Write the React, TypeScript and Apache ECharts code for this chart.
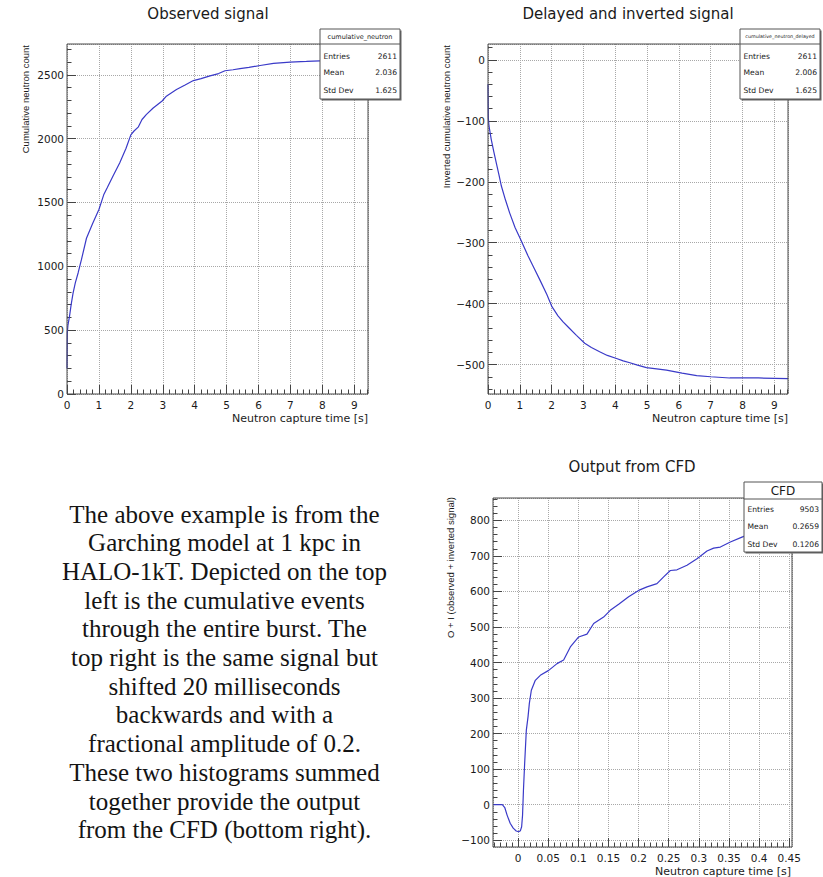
import { useEffect, useRef } from "react";
import * as echarts from "echarts";

// ---------- data ----------
const observedTime = [0, 0.01, 0.03, 0.08, 0.13, 0.19, 0.26, 0.35, 0.45, 0.61, 0.8, 1.0, 1.15, 1.26, 1.45, 1.65, 1.85, 2.0, 2.1, 2.23, 2.35, 2.49, 2.7, 2.98, 3.1, 3.43, 3.7, 3.96, 4.2, 4.48, 4.75, 4.95, 5.2, 5.42, 5.7, 6.05, 6.47, 6.99, 7.5, 7.93, 8.5, 9.0, 9.43];
const observedCount = [200, 480, 540, 610, 700, 790, 870, 950, 1050, 1220, 1333, 1445, 1560, 1615, 1712, 1810, 1925, 2030, 2060, 2090, 2150, 2190, 2240, 2295, 2330, 2385, 2420, 2455, 2470, 2492, 2510, 2532, 2540, 2548, 2558, 2573, 2590, 2600, 2605, 2610, 2611, 2611, 2611];

const delayedTime = [0, 0.01, 0.03, 0.1, 0.18, 0.26, 0.35, 0.42, 0.55, 0.68, 0.85, 1.03, 1.26, 1.45, 1.63, 1.85, 2.01, 2.2, 2.36, 2.55, 2.78, 3.04, 3.25, 3.51, 3.75, 4.04, 4.25, 4.46, 4.7, 4.98, 5.3, 5.61, 6.1, 6.56, 7.0, 7.6, 8.5, 9.43];
const delayedCount = [-40, -95, -108, -130, -150, -169, -190, -207, -230, -251, -275, -295, -322, -342, -361, -385, -405, -420, -430, -440, -452, -465, -472, -479, -485, -490, -494, -497, -501, -505, -507, -509, -514, -518, -520, -522, -522, -523];

const cfdTime = [-0.0415, -0.026, -0.022, -0.018, -0.013, -0.008, -0.003, 0.001, 0.004, 0.006, 0.0075, 0.009, 0.011, 0.0138, 0.0166, 0.0188, 0.0221, 0.0287, 0.037, 0.0509, 0.0647, 0.0757, 0.0868, 0.1006, 0.1144, 0.1255, 0.142, 0.153, 0.167, 0.1835, 0.2, 0.214, 0.2305, 0.2416, 0.2527, 0.2637, 0.2803, 0.2969, 0.3135, 0.3245, 0.3356, 0.3522, 0.3715, 0.39, 0.41, 0.43, 0.4545];
const cfdValue = [0, 0, -8, -30, -52, -66, -74, -76, -73, -62, -30, 40, 116, 210, 247, 285, 322, 350, 364, 378, 397, 407, 444, 472, 480, 510, 528, 547, 564, 585, 603, 613, 622, 641, 659, 661, 674, 692, 714, 722, 725, 739, 753, 765, 780, 800, 818];

const statLabels = ["Entries", "Mean", "Std Dev"];
const observedStats = ["2611", "2.036", "1.625"];
const delayedStats = ["2611", "2.006", "1.625"];
const cfdStats = ["9503", "0.2659", "0.1206"];

const chartTitles = ["Observed signal", "Delayed and inverted signal", "Output from CFD"];
const xTitle = "Neutron capture time [s]";
const yTitles = ["Cumulative neutron count", "Inverted cumulative neutron count", "O + I (observed + inverted signal)"];
const statsNames = ["cumulative_neutron", "cumulative_neutron_delayed", "CFD"];

const paragraphLines = [
  "The above example is from the",
  "Garching model at 1 kpc in",
  "HALO-1kT. Depicted on the top",
  "left is the cumulative events",
  "through the entire burst. The",
  "top right is the same signal but",
  "shifted 20 milliseconds",
  "backwards and with a",
  "fractional amplitude of 0.2.",
  "These two histograms summed",
  "together provide the output",
  "from the CFD (bottom right).",
];

// ---------- styling ----------
const SANS = "DejaVu Sans";
const NARROW = "Liberation Sans";
const SERIF = "Liberation Serif";
const LINE = "#3a3ac8";
const TICK = "#444";
const LABEL = "#1a1a1a";
const GRIDC = "#a8a8a8";

function steps(a: number, b: number, s: number): number[] {
  const out: number[] = [];
  const n = Math.round((b - a) / s);
  for (let i = 0; i <= n; i++) out.push(+(a + i * s).toFixed(6));
  return out;
}

const fmt = (v: number) => String(+(+v).toFixed(4)).replace("-", "\u2212");

const zip = (xs: number[], ys: number[]) => xs.map((x, i) => [x, ys[i]]);

const grids = [
  { left: 67, top: 44, width: 301, height: 350 },
  { left: 488, top: 44, width: 300, height: 350 },
  { left: 493, top: 498, width: 299, height: 349 },
];

const xRanges = [
  { min: 0, max: 9.43, step: 1, minor: steps(0, 9.4, 0.2), showMin: true },
  { min: 0, max: 9.43, step: 1, minor: steps(0, 9.4, 0.2), showMin: true },
  { min: -0.0415, max: 0.4545, step: 0.05, minor: steps(-0.04, 0.45, 0.01), showMin: false },
];
const yRanges = [
  { min: 0, max: 2741.5, step: 500, minor: steps(0, 2700, 100), showMin: true },
  { min: -548.3, max: 26.1, step: 100, minor: steps(-540, 20, 20), showMin: false },
  { min: -119, max: 863, step: 100, minor: steps(-100, 860, 20), showMin: false },
];

function mainAxis(i: number, r: any, pos: string, margin: number) {
  return {
    gridIndex: i,
    type: "value",
    min: r.min,
    max: r.max,
    minInterval: r.step,
    maxInterval: r.step,
    position: pos,
    axisLine: { show: false, onZero: false },
    axisTick: { show: true, inside: true, length: 9, lineStyle: { color: TICK, width: 1 } },
    axisLabel: {
      show: true,
      margin,
      fontFamily: SANS,
      fontSize: 10.5,
      color: LABEL,
      showMinLabel: r.showMin,
      showMaxLabel: false,
      formatter: fmt,
    },
    splitLine: { show: true, lineStyle: { color: GRIDC, type: "dotted", width: 1 } },
  };
}

function minorAxis(i: number, r: any, pos: string) {
  return {
    gridIndex: i,
    type: "value",
    min: r.min,
    max: r.max,
    position: pos,
    axisLine: { show: false, onZero: false },
    axisLabel: { show: false },
    splitLine: { show: false },
    axisTick: {
      show: true,
      inside: true,
      length: 4.5,
      customValues: r.minor,
      lineStyle: { color: TICK, width: 1 },
    },
  };
}

function txt(x: number, y: number, text: string, size: number, family: string, align: string, extra: any = {}) {
  return {
    type: "text",
    x,
    y,
    z: 100,
    silent: true,
    ...extra,
    style: {
      text,
      fontSize: size,
      fontFamily: family,
      fill: extra.fill || LABEL,
      textAlign: align,
      align,
      textVerticalAlign: "middle",
      verticalAlign: "middle",
    },
  };
}

function statsBox(x: number, y: number, w: number, h: number, divY: number, name: string, nameSize: number, values: string[], rowYs: number[]) {
  const els: any[] = [];
  els.push({ type: "rect", z: 98, silent: true, shape: { x: x + 1.5, y: y + 1.5, width: w, height: h }, style: { fill: "#666" } });
  els.push({ type: "rect", z: 99, silent: true, shape: { x, y, width: w, height: h }, style: { fill: "#fff", stroke: "#555", lineWidth: 1 } });
  els.push({ type: "line", z: 100, silent: true, shape: { x1: x, y1: divY, x2: x + w, y2: divY }, style: { stroke: "#555", lineWidth: 1 } });
  els.push(txt(x + w / 2, (y + divY) / 2, name, nameSize, SANS, "center"));
  statLabels.forEach((lab, k) => {
    els.push(txt(x + 3.5, rowYs[k], lab, 7.6, SANS, "left"));
    els.push(txt(x + w - 3, rowYs[k], values[k], 7.6, SANS, "right"));
  });
  return els;
}

export default function App() {
  const ref = useRef<HTMLDivElement>(null);
  useEffect(() => {
    if (!ref.current) return;
    const chart = echarts.init(ref.current, undefined, { renderer: "svg" });

    const graphics: any[] = [];
    // plot frames
    grids.forEach((g) => {
      graphics.push({
        type: "rect",
        z: 50,
        silent: true,
        shape: { x: g.left, y: g.top, width: g.width, height: g.height },
        style: { fill: "none", stroke: "#4a4a4a", lineWidth: 1 },
      });
    });
    // titles
    graphics.push(txt(208, 14, chartTitles[0], 15, SANS, "center"));
    graphics.push(txt(628, 14, chartTitles[1], 15, SANS, "center"));
    graphics.push(txt(632, 467, chartTitles[2], 15, SANS, "center"));
    // x titles
    graphics.push(txt(368, 418.5, xTitle, 11, SANS, "right"));
    graphics.push(txt(788, 418.5, xTitle, 11, SANS, "right"));
    graphics.push(txt(791, 871.5, xTitle, 11, SANS, "right"));
    // y titles (rotated)
    graphics.push(txt(25, 45, yTitles[0], 9.5, NARROW, "right", { rotation: Math.PI / 2 }));
    graphics.push(txt(446, 45, yTitles[1], 9.5, NARROW, "right", { rotation: Math.PI / 2 }));
    graphics.push(txt(450, 497, yTitles[2], 9.5, NARROW, "right", { rotation: Math.PI / 2 }));
    // stats boxes
    graphics.push(...statsBox(320, 29, 80, 70, 44, statsNames[0], 6.5, observedStats, [56, 72.5, 90]));
    graphics.push(...statsBox(740, 29, 80, 70, 44, statsNames[1], 4.8, delayedStats, [56, 72.5, 90]));
    graphics.push(...statsBox(744, 482, 78, 70, 499, statsNames[2], 12, cfdStats, [509.5, 526.5, 544]));
    // paragraph
    paragraphLines.forEach((line, k) => {
      graphics.push(txt(224.5, 514 + k * 28.7, line, 25, SERIF, "center", { fill: "#141414" }));
    });

    const option: any = {
      animation: false,
      backgroundColor: "#ffffff",
      grid: grids.map((g) => ({ ...g, show: false, containLabel: false })),
      xAxis: [
        ...xRanges.map((r, i) => mainAxis(i, r, "bottom", 5)),
        ...xRanges.map((r, i) => minorAxis(i, r, "bottom")),
      ],
      yAxis: [
        ...yRanges.map((r, i) => mainAxis(i, r, "left", 3)),
        ...yRanges.map((r, i) => minorAxis(i, r, "left")),
      ],
      series: [
        { data: zip(observedTime, observedCount), xAxisIndex: 0, yAxisIndex: 0 },
        { data: zip(delayedTime, delayedCount), xAxisIndex: 1, yAxisIndex: 1 },
        { data: zip(cfdTime, cfdValue), xAxisIndex: 2, yAxisIndex: 2 },
      ].map((s) => ({
        ...s,
        type: "line",
        showSymbol: false,
        symbol: "none",
        silent: true,
        z: 10,
        lineStyle: { color: LINE, width: 1.2 },
      })),
      graphic: { elements: graphics },
    };
    chart.setOption(option);
    return () => chart.dispose();
  }, []);

  return (
    <div
      ref={ref}
      style={{ position: "absolute", left: 0, top: 0, width: 823, height: 877, background: "#fff" }}
    />
  );
}
